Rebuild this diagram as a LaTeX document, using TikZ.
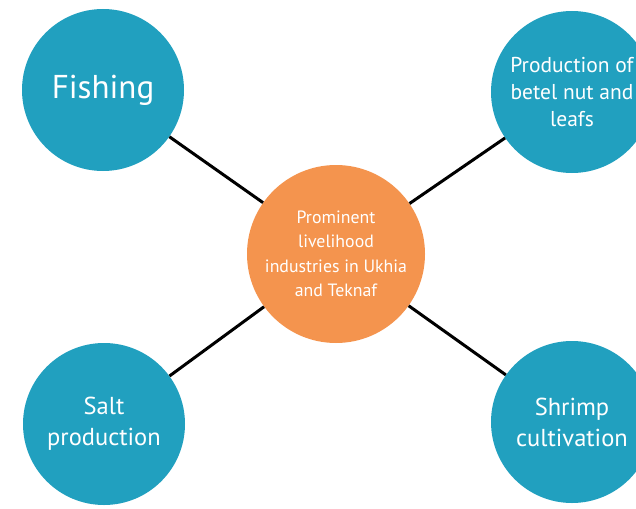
\documentclass[tikz,border=0pt]{standalone}
\usepackage{fontspec}
\setmainfont{PT Sans}
\definecolor{tealblue}{HTML}{21A0BF}
\definecolor{softorange}{HTML}{F4944E}
\begin{document}
\begin{tikzpicture}[x=1pt,y=-1pt]
						\useasboundingbox (0,0) rectangle (636,508);
						\clip (0,0) rectangle (636,508);
						\begin{scope}[every node/.style={circle,fill=tealblue,text=white,inner sep=0pt,minimum size=162pt,align=center}]
							\node[font=\fontsize{33}{36}\selectfont] (F) at (103,90) {Fishing};
							\node[font=\fontsize{21.5}{27}\selectfont] (B) at (572,92) {Production of\\betel nut and\\leafs};
							\node[font=\fontsize{24.5}{31}\selectfont] (S) at (104,424) {Salt\\production};
							\node[font=\fontsize{24.5}{31}\selectfont] (C) at (572,422) {Shrimp\\cultivation};
							\node[fill=softorange,minimum size=178pt,font=\fontsize{17.8}{24.5}\selectfont] (M) at (336,254) {Prominent\\livelihood\\industries in Ukhia\\and Teknaf};
						\end{scope}
						
						\begin{scope}[every edge/.style={draw=black,line width=3pt}]
							\path (F) edge (M);
							\path (B) edge (M);
							\path (S) edge (M);
							\path (C) edge (M);
						\end{scope}
					\end{tikzpicture}
\end{document}
